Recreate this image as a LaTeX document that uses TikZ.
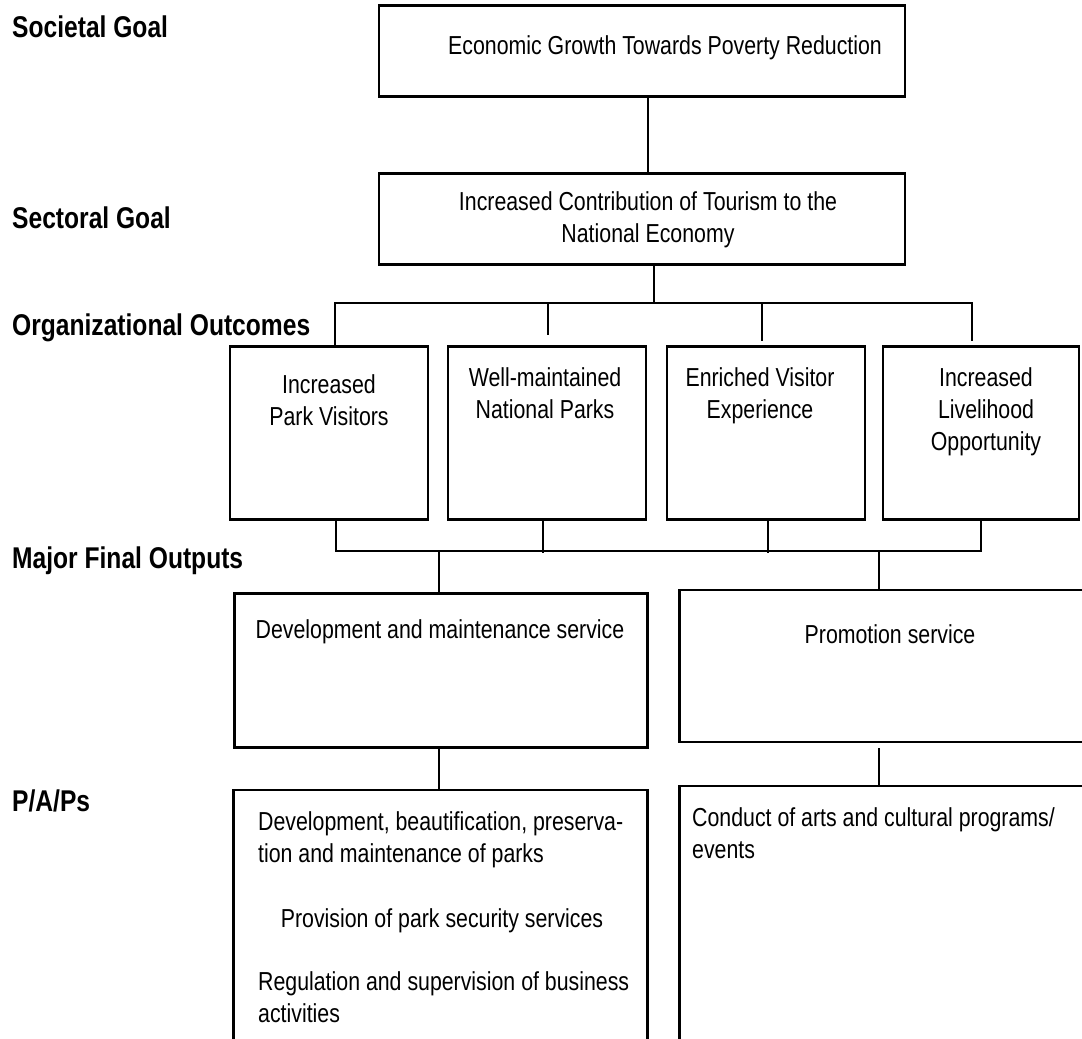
\documentclass[tikz,border=0pt]{standalone}
\usepackage{fontspec}
\setmainfont{Liberation Sans}[FakeStretch=0.82]
\begin{document}
\begin{tikzpicture}[x=1pt,y=-1pt,
  box/.style={draw, line width=2.8pt, inner sep=0pt},
  link/.style={draw, line width=2.5pt},
  txt/.style={font=\fontsize{26}{32}\selectfont, inner sep=0pt, align=center},
  ltxt/.style={font=\fontsize{26}{32}\selectfont, inner sep=0pt, align=left, anchor=base west},
  lab/.style={font=\fontsize{30}{36}\selectfont\bfseries, inner sep=0pt, anchor=base west}]
\useasboundingbox (0,0) rectangle (1082,1039);
\begin{scope}
\clip (0,0) rectangle (1082,1039);

% level labels
\node[lab] (lsoc) at (12,37)  {Societal Goal};
\node[lab] (lsec) at (12,228) {Sectoral Goal};
\node[lab] (loo)  at (12,335) {Organizational Outcomes};
\node[lab] (lmfo) at (12,568) {Major Final Outputs};
\node[lab] (lpap) at (12,811) {P/A/Ps};

% goal boxes
\node[box, minimum width=526, minimum height=91] (soc) at (642,51) {};
\node[box, minimum width=526, minimum height=91] (sec) at (642,219) {};

% organizational outcome boxes
\node[box, minimum width=198, minimum height=173] (o1) at (329,433) {};
\node[box, minimum width=198, minimum height=173] (o2) at (547,433) {};
\node[box, minimum width=198, minimum height=173] (o3) at (766,433) {};
\node[box, minimum width=196, minimum height=173] (o4) at (981,433) {};

% major final output boxes
\node[box, minimum width=413, minimum height=154] (m1) at (441,670.5) {};
\node[box, minimum width=421, minimum height=152] (m2) at (890,666) {};

% programs, activities and projects boxes (run past the lower edge)
\node[box, minimum width=414, minimum height=320] (p1) at (440.5,950) {};
\node[box, minimum width=421, minimum height=324] (p2) at (890,948) {};

% box texts (multi-line nodes sit on the baseline of their last line)
\node[txt, anchor=base] (tsoc) at (665,54) {Economic Growth Towards Poverty Reduction};
\node[txt, anchor=base] (tsec) at (648,242) {Increased Contribution of Tourism to the\\National Economy};
\node[txt, anchor=base] (to1) at (329,425) {Increased\\Park Visitors};
\node[txt, anchor=base] (to2) at (545,418) {Well-maintained\\National Parks};
\node[txt, anchor=base] (to3) at (760,418) {Enriched Visitor\\Experience};
\node[txt, anchor=base] (to4) at (986,450) {Increased\\Livelihood\\Opportunity};
\node[txt, anchor=base] (tm1) at (440,638) {Development and maintenance service};
\node[txt, anchor=base] (tm2) at (890,643) {Promotion service};
\node[ltxt] (tp1a) at (258,862) {Development, beautification, preserva-\\tion and maintenance of parks};
\node[txt, anchor=base] (tp1b) at (442,927) {Provision of park security services};
\node[ltxt] (tp1c) at (258,1022) {Regulation and supervision of business\\activities};
\node[ltxt] (tp2a) at (692,858) {Conduct of arts and cultural programs/\\events};

% societal goal to sectoral goal
\draw[link] ([xshift=6pt]soc.south) -- ([xshift=6pt]sec.north);

% sectoral goal down to the outcome bracket
\coordinate (tbc) at (654,303);
\coordinate (tb1) at (335,303);
\coordinate (tb2) at (548,303);
\coordinate (tb3) at (762,303);
\coordinate (tb4) at (972,303);
\draw[link] (sec.south -| tbc) -- (tbc);
\draw[link] (tb1 |- o1.north) -- (tb1) -- (tb4) -- ([yshift=4pt]tb4 |- o4.north);
\draw[link] (tb2) -- ([yshift=10pt]tb2 |- o2.north);
\draw[link] (tb3) -- ([yshift=4pt]tb3 |- o3.north);

% outcomes bracket down to the major final outputs
\coordinate (bb1) at (336,551);
\coordinate (bb2) at (543,551);
\coordinate (bb3) at (768,551);
\coordinate (bb4) at (981,551);
\coordinate (bbl) at (439,551);
\coordinate (bbr) at (879,551);
\draw[link] (o1.south -| bb1) -- (bb1) -- (bb4) -- (o4.south -| bb4);
\draw[link] (o2.south -| bb2) -- ([yshift=-2pt]bb2);
\draw[link] (o3.south -| bb3) -- ([yshift=-2pt]bb3);
\draw[link] (bbl) -- (m1.north -| bbl);
\draw[link] (bbr) -- (m2.north -| bbr);

% major final outputs to their programs
\draw[link] (m1.south -| bbl) -- (p1.north -| bbl);
\draw[link] ([yshift=-5pt]m2.south -| bbr) -- (p2.north -| bbr);
\end{scope}
\end{tikzpicture}
\end{document}
